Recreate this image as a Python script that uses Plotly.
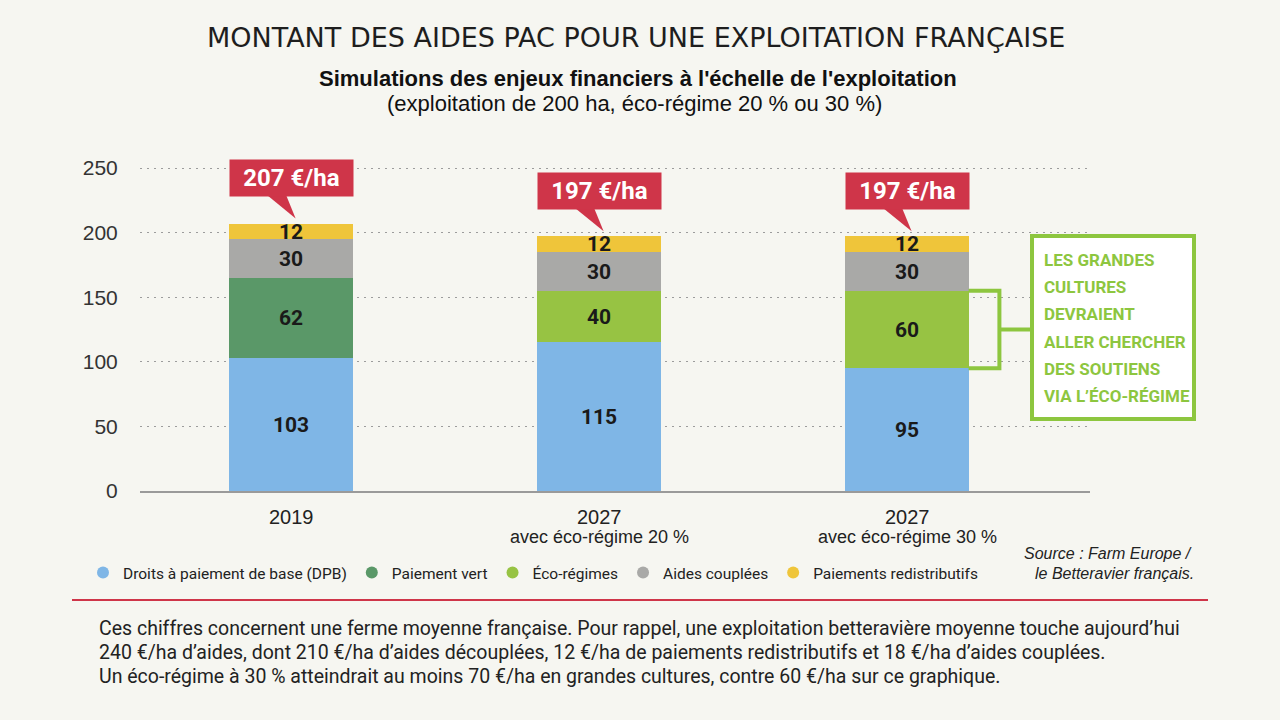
import plotly.graph_objects as go

# ---------------- data ----------------
categories = ["2019", "2027", "2027"]
sublabels = ["", "avec éco-régime 20 %", "avec éco-régime 30 %"]
series_names = ["Droits à paiement de base (DPB)", "Paiement vert", "Éco-régimes",
                "Aides couplées", "Paiements redistributifs"]
dpb = [103, 115, 95]
paiement_vert = [62, None, None]
eco_regimes = [None, 40, 60]
aides_couplees = [30, 30, 30]
redistributifs = [12, 12, 12]
totals = [207, 197, 197]
total_labels = ["207 €/ha", "197 €/ha", "197 €/ha"]
y_ticks = [0, 50, 100, 150, 200, 250]
note_lines = ["LES GRANDES", "CULTURES", "DEVRAIENT", "ALLER CHERCHER",
              "DES SOUTIENS", "VIA L’ÉCO-RÉGIME"]

colors = ["#7fb6e6", "#5a9868", "#97c343", "#a9a9a7", "#efc53a"]
BG = "#f6f6f1"
RED = "#cf3549"
GREEN = "#8dc63f"
COND = "Roboto, 'Noto Sans', sans-serif"
SANS = "'Liberation Sans', Arial, Helvetica, sans-serif"

# plot-area geometry in pixels (for paper-coordinate conversions of decorations)
L, R, T, B = 140, 1090, 140, 491
def px(x):
    return (x - L) / (R - L)
def py(y):
    return (B - y) / (B - T)

def cfont(size, color, weight="normal"):
    return dict(family=COND, size=size, color=color, weight=weight)

fig = go.Figure()
xs = [0, 1, 2]
series = [dpb, paiement_vert, eco_regimes, aides_couplees, redistributifs]
for name, vals, col in zip(series_names, series, colors):
    fig.add_trace(go.Bar(
        x=xs, y=vals, name=name, marker=dict(color=col, line=dict(width=0)),
        width=0.4, showlegend=False,
        text=[("" if v is None else str(v)) for v in vals],
        textposition="inside", insidetextanchor="middle", textangle=0,
        textfont=cfont(21, "#1a1a1a", "bold"),
        hoverinfo="skip", cliponaxis=False,
    ))
# legend entries with circle symbols
for name, col in zip(series_names, colors):
    fig.add_trace(go.Scatter(
        x=[None], y=[None], mode="markers", name=name,
        marker=dict(symbol="circle", size=13, color=col), showlegend=True,
    ))

ymax = (B - T) / ((B - 168) / 250)

fig.update_layout(
    width=1280, height=720,
    paper_bgcolor=BG, plot_bgcolor=BG,
    margin=dict(l=L, r=1280 - R, t=T, b=720 - B),
    barmode="stack", bargap=0,
    uniformtext=dict(mode="show", minsize=21),
    showlegend=True,
    legend=dict(orientation="h", x=px(83), y=py(573), xanchor="left", yanchor="middle",
                font=cfont(15.5, "#222"), itemwidth=30,
                itemsizing="constant", bgcolor="rgba(0,0,0,0)", tracegroupgap=0,
                traceorder="normal"),
    xaxis=dict(range=[(L - 291) / 308, (R - 291) / 308], showticklabels=False,
               showgrid=False, zeroline=False, showline=True, linecolor="#9a9a9a",
               linewidth=1.5, fixedrange=True),
    yaxis=dict(range=[0, ymax], tickvals=y_ticks, showgrid=True, gridcolor="#9c9c9c",
               griddash="2px,5px", gridwidth=1, zeroline=False, showline=False,
               ticks="outside", ticklen=17, tickcolor=BG, fixedrange=True,
               tickfont=dict(family=SANS, size=21, color="#333")),
)

ann = []
# titles
ann.append(dict(text="MONTANT DES AIDES PAC POUR UNE EXPLOITATION FRANÇAISE",
                x=px(636), y=py(37), xref="paper", yref="paper", showarrow=False,
                font=dict(family="'DejaVu Sans', sans-serif", size=27, color="#1e1e1e"),
                xanchor="center", yanchor="middle"))
ann.append(dict(text="<b>Simulations des enjeux financiers à l'échelle de l'exploitation</b>",
                x=px(638), y=py(78), xref="paper", yref="paper", showarrow=False,
                font=dict(family=SANS, size=22, color="#111"), xanchor="center", yanchor="middle"))
ann.append(dict(text="(exploitation de 200 ha, éco-régime 20 % ou 30 %)",
                x=px(634), y=py(104), xref="paper", yref="paper", showarrow=False,
                font=dict(family=SANS, size=22, color="#111"), xanchor="center", yanchor="middle"))
# category labels
for i, (c, s) in enumerate(zip(categories, sublabels)):
    ann.append(dict(text=c, x=xs[i], y=py(517), xref="x", yref="paper", showarrow=False,
                    font=dict(family=SANS, size=20, color="#222"), xanchor="center", yanchor="middle"))
    if s:
        ann.append(dict(text=s, x=xs[i], y=py(537), xref="x", yref="paper", showarrow=False,
                        font=dict(family=SANS, size=18, color="#222"), xanchor="center", yanchor="middle"))
# total callouts
shapes = []
for i, (t, lab) in enumerate(zip(totals, total_labels)):
    ann.append(dict(text="<b>" + lab + "</b>", x=xs[i], y=t + 35, xref="x", yref="y",
                    showarrow=False, bgcolor=RED, width=123, height=36, borderpad=0,
                    font=cfont(24, "white", "bold"),
                    xanchor="center", yanchor="middle"))
    shapes.append(dict(type="path", xref="x", yref="y",
                       path=f"M {xs[i]-0.075},{t+21.5} L {xs[i]-0.015},{t+21.5} L {xs[i]+0.015},{t+4} Z",
                       fillcolor=RED, line=dict(width=0), layer="above"))
# bracket for eco-regime 30 %
lo = dpb[2]
hi = dpb[2] + eco_regimes[2]
mid = (lo + hi) / 2
shapes.append(dict(type="path", xref="x", yref="y",
                   path=f"M {xs[2]+0.2},{hi} L {xs[2]+0.3},{hi} L {xs[2]+0.3},{lo} L {xs[2]+0.2},{lo}",
                   line=dict(color=GREEN, width=4), layer="above"))
shapes.append(dict(type="line", xref="x", yref="y", x0=xs[2] + 0.3, x1=xs[2] + 0.4,
                   y0=mid, y1=mid, line=dict(color=GREEN, width=4), layer="above"))
# green note box
shapes.append(dict(type="rect", xref="paper", yref="paper", x0=px(1032), x1=px(1194),
                   y0=py(236), y1=py(419), fillcolor="white",
                   line=dict(color=GREEN, width=4), layer="above"))
for k, line in enumerate(note_lines):
    ann.append(dict(text="<b>" + line + "</b>", x=px(1042), y=py(260 + 27.2 * k),
                    xref="paper", yref="paper", showarrow=False,
                    font=cfont(17, GREEN, "bold"), xanchor="left", yanchor="middle"))
# source
ann.append(dict(text="<i>Source : Farm Europe /</i>", x=px(1194), y=py(553), xref="paper", yref="paper",
                showarrow=False, font=dict(family=SANS, size=16, color="#222"),
                xanchor="right", yanchor="middle"))
ann.append(dict(text="<i>le Betteravier français.</i>", x=px(1196), y=py(573), xref="paper", yref="paper",
                showarrow=False, font=dict(family=SANS, size=16, color="#222"),
                xanchor="right", yanchor="middle"))
# red separator
shapes.append(dict(type="line", xref="paper", yref="paper", x0=px(72), x1=px(1208),
                   y0=py(600), y1=py(600), line=dict(color=RED, width=2)))
# footnote
foot = ["Ces chiffres concernent une ferme moyenne française. Pour rappel, une exploitation betteravière moyenne touche aujourd’hui",
        "240 €/ha d’aides, dont 210 €/ha d’aides découplées, 12 €/ha de paiements redistributifs et 18 €/ha d’aides couplées.",
        "Un éco-régime à 30 % atteindrait au moins 70 €/ha en grandes cultures, contre 60 €/ha sur ce graphique."]
for k, line in enumerate(foot):
    ann.append(dict(text=line, x=px(97), y=py(628 + 24 * k), xref="paper", yref="paper",
                    showarrow=False, font=cfont(19.5, "#222"),
                    xanchor="left", yanchor="middle"))

fig.update_layout(annotations=ann, shapes=shapes)
fig.write_html("out.html", config={"displayModeBar": False},
               post_script=("document.body.style.margin='0';"
                            f"document.body.style.background='{BG}';"
                            "document.body.style.overflow='hidden';"))
